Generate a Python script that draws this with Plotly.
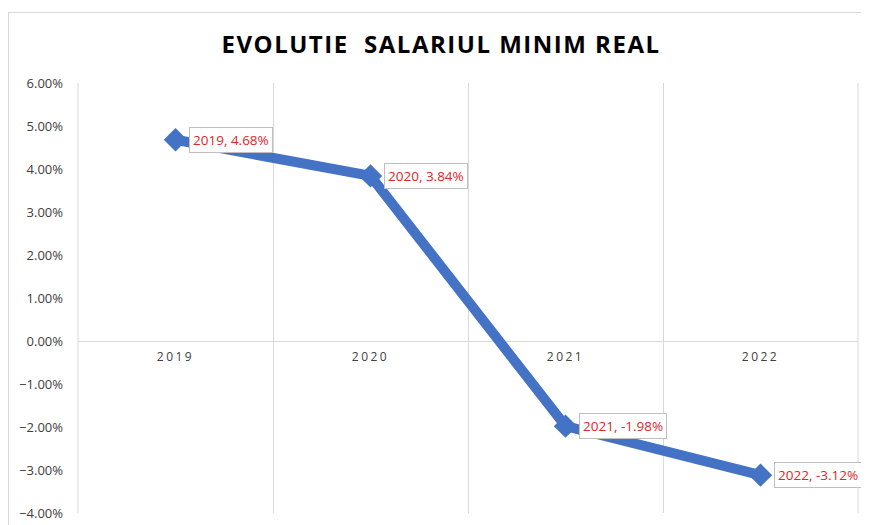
import plotly.graph_objects as go

years = ["2019", "2020", "2021", "2022"]
values = [4.68, 3.84, -1.98, -3.12]
y_ticks = [6, 5, 4, 3, 2, 1, 0, -1, -2, -3, -4]
title_text = "EVOLUTIE  SALARIUL MINIM REAL"

W, H = 869, 525
OFF = 8  # page body margin
L, R, T, B = 78 - OFF, 11 + OFF, 83 - OFF, 12 + OFF
pw = W - L - R
ph = H - T - B

yv = [v / 100 for v in values]

fig = go.Figure()
fig.add_trace(go.Scatter(
    x=years, y=yv, mode="lines+markers",
    line=dict(color="#4472C4", width=10),
    marker=dict(symbol="diamond", size=18, color="#4472C4"),
    hoverinfo="skip", showlegend=False, cliponaxis=False,
))

for i, (yr, v, yy) in enumerate(zip(years, values, yv)):
    fig.add_annotation(
        x=i, y=yy, xref="x", yref="y", text=f"{yr}, {v:.2f}&#37;",
        showarrow=False, xanchor="left", yanchor="middle", xshift=13,
        font=dict(family="Open Sans, sans-serif", size=13.5, color="#E0262B"),
        bgcolor="white", bordercolor="#BFBFBF", borderwidth=1, borderpad=3,
    )

# chart frame
fig.add_shape(type="rect", xref="paper", yref="paper",
              x0=(8.5 - 78) / pw, x1=1.2, y0=-0.2, y1=(513 - 12.5) / ph,
              line=dict(color="#D9D9D9", width=1.2), layer="below")
# edge gridlines
for xe in (0, 1):
    fig.add_shape(type="line", xref="paper", yref="paper", x0=xe, x1=xe, y0=0, y1=1,
                  line=dict(color="#D9D9D9", width=1), layer="below")

zero_pos = (513 - 341) / ph

fig.update_layout(
    width=W, height=H,
    margin=dict(l=L, r=R, t=T, b=B),
    paper_bgcolor="white", plot_bgcolor="white",
    title=dict(text=f'<span style="letter-spacing:1.5px"><b>{title_text}</b></span>',
               x=(441 - 78) / pw, xref="paper", xanchor="center",
               y=1 - (45 - OFF) / H, yanchor="middle",
               font=dict(family="Open Sans, sans-serif", size=24, color="#000000")),
    xaxis=dict(
        type="category", categoryorder="array", categoryarray=years,
        range=[-0.5, 3.5], tickson="boundaries", ticks="",
        showgrid=True, gridcolor="#D9D9D9", gridwidth=1,
        showline=False, zeroline=False,
        anchor="free", position=zero_pos,
        tickvals=years, ticktext=[f'<span style="letter-spacing:2.5px">{y}</span>' for y in years],
        tickfont=dict(family="Open Sans, sans-serif", size=12, color="#404040"),
        ticklabelstandoff=7,
    ),
    yaxis=dict(
        range=[-0.04, 0.06], tickvals=[t / 100 for t in y_ticks], tickformat=".2%",
        showgrid=False, zeroline=True, zerolinecolor="#D9D9D9", zerolinewidth=1,
        showline=False, ticks="",
        tickfont=dict(family="Open Sans, sans-serif", size=13, color="#404040"),
        ticklabelstandoff=14,
    ),
)

fig.write_html("out.html")
